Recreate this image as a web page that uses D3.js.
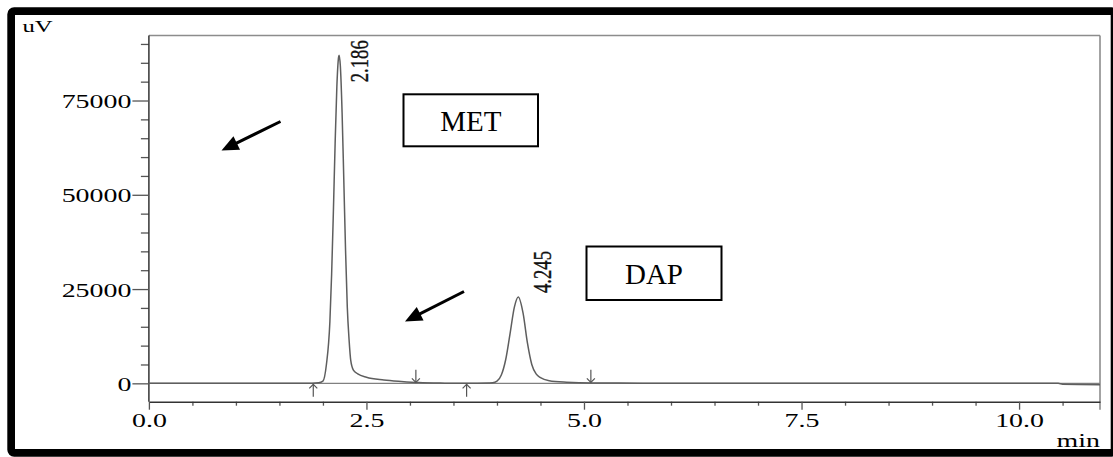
<!DOCTYPE html>
<html>
<head>
<meta charset="utf-8">
<script src="https://cdn.jsdelivr.net/npm/d3@7"></script>
<style>
  html, body { margin: 0; padding: 0; background: #fff; }
  svg { display: block; }
  text { font-family: "Liberation Serif", "Times New Roman", serif; }
</style>
</head>
<body>
<svg id="chart" width="1113" height="457"></svg>
<script>
// ---- data ----
const times  = [0, 1.80, 1.95, 2.00, 2.04, 2.08, 2.10, 2.12, 2.14, 2.16, 2.18, 2.186, 2.20, 2.22, 2.24, 2.26, 2.28, 2.30, 2.32, 2.35, 2.40, 2.50, 2.70, 2.90, 3.10, 3.40, 3.65, 3.90, 3.95, 4.00, 4.05, 4.10, 4.15, 4.20, 4.245, 4.30, 4.35, 4.40, 4.45, 4.50, 4.60, 4.80, 5.10, 5.40, 6.00, 8.00, 10.45, 10.50, 10.93];
const signal = [0, 0, 150, 600, 5000, 16400, 29000, 45500, 63500, 78700, 86500, 87000, 84200, 71900, 53700, 35200, 20200, 11700, 6000, 3500, 2500, 1600, 900, 500, 200, 50, 0, 100, 150, 560, 2200, 6250, 13100, 20200, 22900, 18600, 10700, 5000, 2500, 1500, 700, 300, 100, 80, 0, 0, 0, -250, -350];
const peakTimes   = [2.186, 4.245];
const peakHeights = [87000, 22900];
const peakLabels  = ["2.186", "4.245"];
const markerTimes = [1.889, 3.068, 3.651, 5.079];
const markerDirs  = ["up", "down", "up", "down"];
const xMajorTicks = [0, 2.5, 5.0, 7.5, 10.0];
const yMajorTicks = [0, 25000, 50000, 75000];
const compoundNames = ["MET", "DAP"];
const xDomain = [0, 10.93];
const yDomain = [-4870, 92240];

// ---- layout ----
const svg = d3.select("#chart");
const L = 148.9, R = 1100, T = 35.5, B = 401.7;
const x = d3.scaleLinear().domain(xDomain).range([L, R]);
const y = d3.scaleLinear().domain(yDomain).range([B, T]);
const SX = 1.55; // horizontal stretch of the original picture

// outer black frame
svg.append("rect")
  .attr("x", 11.15).attr("y", 11.15)
  .attr("width", 1103.4).attr("height", 441.7)
  .attr("rx", 3)
  .attr("fill", "none").attr("stroke", "#000").attr("stroke-width", 7.7);

// top and right plot borders
svg.append("line").attr("x1", L).attr("x2", R).attr("y1", T).attr("y2", T)
  .attr("stroke", "#8c8c8c").attr("stroke-width", 1.4);
svg.append("line").attr("x1", R).attr("x2", R).attr("y1", T).attr("y2", B + 8)
  .attr("stroke", "#8c8c8c").attr("stroke-width", 1.6);

// minor ticks
const xMinor = d3.range(0, 10.51, 0.5).filter(v => !xMajorTicks.some(m => Math.abs(m - v) < 1e-6));
const yMinor = d3.range(5000, 92001, 5000).filter(v => !yMajorTicks.includes(v));

const gxMinor = svg.append("g").attr("transform", `translate(0,${B})`)
  .call(d3.axisBottom(x).tickValues(xMinor).tickSize(4).tickSizeOuter(0).tickFormat(""));
gxMinor.select(".domain").remove();
const gyMinor = svg.append("g").attr("transform", `translate(${L},0)`)
  .call(d3.axisLeft(y).tickValues(yMinor).tickSize(8).tickSizeOuter(0).tickFormat(""));
gyMinor.select(".domain").remove();

// major axes
const gx = svg.append("g").attr("transform", `translate(0,${B})`)
  .call(d3.axisBottom(x).tickValues(xMajorTicks).tickSize(8).tickPadding(4.5)
    .tickSizeOuter(0).tickFormat(d3.format(".1f")));
const gy = svg.append("g").attr("transform", `translate(${L},0)`)
  .call(d3.axisLeft(y).tickValues(yMajorTicks).tickSize(16.5).tickPadding(1)
    .tickSizeOuter(0).tickFormat(d3.format("d")));
gy.select(".domain").attr("d", `M0,${T}V${B}`);

[gx, gy, gxMinor, gyMinor].forEach(g => {
  g.selectAll(".domain").attr("stroke", "#333").attr("stroke-width", 1.5);
  g.selectAll(".tick line").attr("stroke", "#555").attr("stroke-width", 1.3);
});
gx.selectAll("text").attr("font-size", 18).attr("fill", "#000")
  .attr("font-family", "Liberation Serif");
gy.selectAll("text").attr("font-size", 18).attr("fill", "#000").attr("dy", "0.4em")
  .attr("font-family", "Liberation Serif");

// stretch texts horizontally like the original
function stretch(sel, f) {
  sel.each(function() {
    const w = this.getComputedTextLength();
    d3.select(this).attr("textLength", w * f).attr("lengthAdjust", "spacingAndGlyphs");
  });
}
stretch(gx.selectAll("text"), SX);
stretch(gy.selectAll("text"), SX);

// unit labels
const uv = svg.append("text").attr("x", 22.5).attr("y", 31.5)
  .attr("font-size", 17).attr("fill", "#000").text("uV");
stretch(uv, 1.45);
const mn = svg.append("text").attr("x", R).attr("y", 447).attr("text-anchor", "end")
  .attr("font-size", 18).attr("fill", "#000").text("min");
stretch(mn, SX);

// zero baseline
svg.append("path")
  .datum(xDomain)
  .attr("d", d3.line().x(d => x(d)).y(() => y(0)))
  .attr("fill", "none").attr("stroke", "#808080").attr("stroke-width", 1.3);

// chromatogram signal
const pts = times.map((t, i) => [t, signal[i]]);
svg.append("path")
  .datum(pts)
  .attr("d", d3.line().x(d => x(d[0])).y(d => y(d[1])).curve(d3.curveMonotoneX))
  .attr("fill", "none").attr("stroke", "#5e5e5e").attr("stroke-width", 1.5)
  .attr("stroke-linejoin", "round");

// integration markers
markerTimes.forEach((t, i) => {
  const cx = x(t), y0 = y(0);
  const up = markerDirs[i] === "up";
  const g = svg.append("g").attr("stroke", "#555").attr("stroke-width", 1.2).attr("fill", "none");
  if (up) {
    g.append("line").attr("x1", cx).attr("x2", cx).attr("y1", y0 + 1).attr("y2", y0 + 13.5);
    g.append("path").attr("d", `M${cx - 4},${y0 + 5}L${cx},${y0 + 1}L${cx + 4},${y0 + 5}`);
  } else {
    g.append("line").attr("x1", cx).attr("x2", cx).attr("y1", y0 - 13.5).attr("y2", y0 - 1);
    g.append("path").attr("d", `M${cx - 4},${y0 - 5}L${cx},${y0 - 1}L${cx + 4},${y0 - 5}`);
  }
});

// peak retention-time labels (rotated)
const labelDx = [29, 33], labelDy = [27, -4];
peakTimes.forEach((t, i) => {
  const px = x(t) + labelDx[i], py = y(peakHeights[i]) + labelDy[i];
  svg.append("text")
    .attr("transform", `translate(${px},${py}) scale(1.45,1) rotate(-90)`)
    .attr("font-size", 17).attr("fill", "#111").attr("stroke", "#111").attr("stroke-width", 0.25)
    .attr("textLength", 42).attr("lengthAdjust", "spacingAndGlyphs")
    .text(peakLabels[i]);
});

// compound name boxes
const boxes = [
  { x: 403.5, y: 94.3, w: 134.5, h: 52 },
  { x: 586.5, y: 246.5, w: 135, h: 53.5 }
];
boxes.forEach((b, i) => {
  svg.append("rect").attr("x", b.x).attr("y", b.y).attr("width", b.w).attr("height", b.h)
    .attr("fill", "#fff").attr("stroke", "#000").attr("stroke-width", 2);
  svg.append("text").attr("x", b.x + b.w / 2).attr("y", b.y + b.h / 2 + 10.5)
    .attr("text-anchor", "middle").attr("font-size", 29).attr("fill", "#000")
    .text(compoundNames[i]);
});

// black pointer arrows
function arrow(x1, y1, x2, y2) {
  const dx = x2 - x1, dy = y2 - y1, len = Math.hypot(dx, dy);
  const ux = dx / len, uy = dy / len, nx = -uy, ny = ux;
  const hl = 17, hw = 7.5;
  const bx = x2 - ux * hl, by = y2 - uy * hl;
  svg.append("line").attr("x1", x1).attr("y1", y1).attr("x2", bx + ux * 2).attr("y2", by + uy * 2)
    .attr("stroke", "#000").attr("stroke-width", 3);
  svg.append("path")
    .attr("d", `M${x2},${y2}L${bx + nx * hw},${by + ny * hw}L${bx - nx * hw},${by - ny * hw}Z`)
    .attr("fill", "#000");
}
arrow(280.5, 121.5, 221.5, 150.5);
arrow(464, 291.5, 405, 321.5);
</script>
</body>
</html>
